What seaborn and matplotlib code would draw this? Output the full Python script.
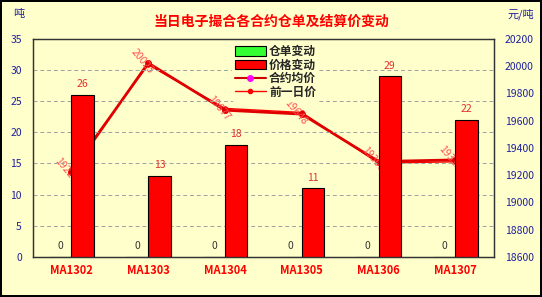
import numpy as np
import pandas as pd
import matplotlib
matplotlib.use("Agg")
import matplotlib.pyplot as plt
from matplotlib.lines import Line2D
from matplotlib.patches import Patch
import seaborn as sns

# ---------------- dados ----------------
contratos = ["MA1302", "MA1303", "MA1304", "MA1305", "MA1306", "MA1307"]
cangdan = [0, 0, 0, 0, 0, 0]                 # 仓单变动 (吨)
jiage = [26, 13, 18, 11, 29, 22]             # 价格变动
junjia = [19224, 20023, 19677, 19648, 19300, 19312]      # 合约均价 (元/吨)
qianyiri = [19248, 20010, 19690, 19660, 19288, 19298]    # 前一日价
rotulos = ["19224", "20023", "19677", "19648", "19300", "19312"]

BG = "#FFFFCC"
AZUL = "#1F1F9F"
VERMELHO = "#FF0000"

sns.set_style("white")
plt.rcParams["font.family"] = ["Noto Sans CJK SC", "DejaVu Sans"]

df = pd.DataFrame({
    "合约": contratos * 2,
    "类型": ["仓单变动"] * 6 + ["价格变动"] * 6,
    "值": cangdan + jiage,
})

fig = plt.figure(figsize=(5.42, 2.97), dpi=100, facecolor=BG,
                 edgecolor="black", linewidth=1.5)
ax = fig.add_axes([0.061, 0.135, 0.85, 0.734])
ax2 = ax.twinx()
ax2.set_facecolor(BG)

# eixo da direita: preços (desenhado por baixo das barras)
sns.pointplot(x=contratos, y=qianyiri, ax=ax2, color=VERMELHO,
              linewidth=1.0, markers="o", markersize=2.5)
sns.pointplot(x=contratos, y=junjia, ax=ax2, color="#E00000",
              linewidth=2.0, markers="o", markersize=3.5)
ax2.lines[-1].set_markerfacecolor("#FF00FF")
ax2.lines[-1].set_markeredgecolor("#FF00FF")
ax2.set_ylim(18600, 20200)
ax2.set_yticks(np.arange(18600, 20201, 200))
ax2.set_xlim(-0.5, 5.5)
ax2.tick_params(axis="y", labelsize=7.5, labelcolor=AZUL, length=0, pad=8)
ax2.set_ylabel("")
for s in ax2.spines.values():
    s.set_color("#333333")
    s.set_linewidth(0.9)

for i, (v, r) in enumerate(zip(junjia, rotulos)):
    ax2.text(i - 0.08, v + 15, r, rotation=-50, ha="center", va="center",
             fontsize=7.5, color="#FF5050", rotation_mode="anchor")

# eixo da esquerda: barras por cima
ax.set_zorder(ax2.get_zorder() + 1)
ax.patch.set_visible(False)
sns.barplot(data=df, x="合约", y="值", hue="类型", ax=ax,
            palette={"仓单变动": "#33FF33", "价格变动": VERMELHO},
            width=0.58, saturation=1, edgecolor="black", linewidth=0.8,
            legend=False)

ax.set_ylim(0, 35)
ax.set_yticks(np.arange(0, 36, 5))
ax.set_xlim(-0.5, 5.5)
ax.set_xlabel("")
ax.set_ylabel("")
ax.yaxis.grid(True, linestyle=(0, (4, 3)), color="#A0A0A0", linewidth=0.7)
ax.set_axisbelow(True)
ax.tick_params(axis="y", labelsize=7.5, labelcolor=AZUL, length=0, pad=8)
ax.tick_params(axis="x", length=0, pad=5)
ax.set_xticks(np.arange(0.5, 5.5, 1), minor=True)
ax.tick_params(axis="x", which="minor", length=3, direction="in", color="#333333")
for t in ax.get_xticklabels():
    t.set_color(VERMELHO)
    t.set_fontweight("bold")
    t.set_fontsize(8)
for s in ax.spines.values():
    s.set_color("#333333")
    s.set_linewidth(0.9)

# rótulos das barras
conts = ax.containers
ax.bar_label(conts[0], labels=[str(v) for v in cangdan], fontsize=7.5,
             color="#333333", padding=4)
ax.bar_label(conts[1], labels=[str(v) for v in jiage], fontsize=7.5,
             color="#E03030", padding=4)

# legenda
handles = [
    Patch(facecolor="#33FF33", edgecolor="black", linewidth=0.8),
    Patch(facecolor=VERMELHO, edgecolor="black", linewidth=0.8),
    Line2D([], [], color="#CC0000", lw=1.5, marker="o", markersize=4,
           markerfacecolor="#FF00FF", markeredgecolor="#FF00FF"),
    Line2D([], [], color=VERMELHO, lw=1, marker="o", markersize=3),
]
leg = ax.legend(handles, ["仓单变动", "价格变动", "合约均价", "前一日价"],
                loc="upper left", bbox_to_anchor=(0.42, 1.01),
                frameon=True, facecolor=BG, edgecolor=BG, framealpha=1,
                prop={"size": 8.5, "weight": "bold"}, handlelength=2.6,
                handleheight=0.9, labelspacing=0.05, borderpad=0.2,
                handletextpad=0.3)

# títulos
fig.text(0.5, 0.928, "当日电子撮合各合约仓单及结算价变动", ha="center",
         va="center", fontsize=10, color=VERMELHO, fontweight="bold")
fig.text(0.025, 0.952, "吨", ha="left", va="center", fontsize=8, color=AZUL)
fig.text(0.985, 0.952, "元/吨", ha="right", va="center", fontsize=8, color=AZUL)

fig.savefig("out.png", dpi=100, facecolor=BG, edgecolor=fig.get_edgecolor())
